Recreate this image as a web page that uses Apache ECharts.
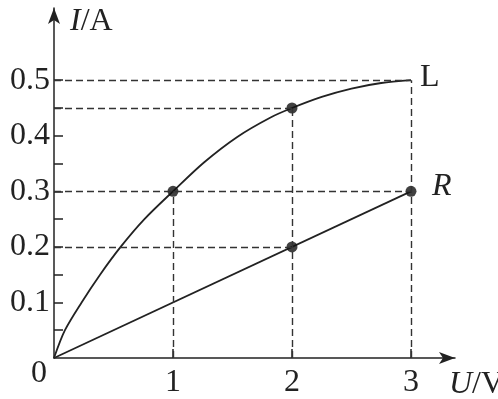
<!DOCTYPE html>
<html><head><meta charset="utf-8">
<script src="https://cdn.jsdelivr.net/npm/echarts@6/dist/echarts.min.js"></script>
<style>html,body{margin:0;padding:0;background:#fff}#c{width:498px;height:399px}</style>
</head><body><div id="c"></div>
<script>
// ---- data ----
const uTicks = [1, 2, 3];
const uLabels = [1, 2, 3];
const iTicks = [0.05, 0.1, 0.15, 0.2, 0.25, 0.3, 0.35, 0.4, 0.45, 0.5];
const iLabels = [0.1, 0.2, 0.3, 0.4, 0.5];
const lampU = [0, 0.092, 0.232, 0.387, 0.56, 0.76, 1, 1.26, 1.54, 1.82, 2, 2.25, 2.5, 2.75, 3];
const lampI = [0, 0.05, 0.1, 0.15, 0.2, 0.25, 0.3, 0.352, 0.398, 0.433, 0.45, 0.47, 0.485, 0.495, 0.5];
const resU = [0, 3];
const resI = [0, 0.3];
const lampDotU = [1, 2];
const lampDotI = [0.3, 0.45];
const resDotU = [2, 3];
const resDotI = [0.2, 0.3];
const guideHI = [0.5, 0.45, 0.3, 0.2];
const guideHU = [3, 2, 3, 2];
const guideVU = [1, 2, 3];
const guideVI = [0.3, 0.45, 0.5];
const xMax = 3.37, yMax = 0.63;

const FONT = '"Liberation Serif", "Times New Roman", serif';
const INK = '#222';
const FS = 32;
const zip = (a, b) => a.map((v, k) => [v, b[k]]);

const guides = [];
guideHI.forEach((v, k) => guides.push([{coord: [0, v]}, {coord: [guideHU[k], v]}]));
guideVU.forEach((v, k) => guides.push([{coord: [v, 0]}, {coord: [v, guideVI[k]]}]));

const chart = echarts.init(document.getElementById('c'), null, {renderer: 'canvas'});
const option = {
  animation: false,
  backgroundColor: '#fff',
  grid: {left: 54, top: 8, bottom: 41, width: 401, containLabel: false},
  xAxis: {
    type: 'value', min: 0, max: xMax,
    splitLine: {show: false},
    axisLine: {show: true, onZero: false, symbol: ['none', 'arrow'], symbolSize: [9, 16], lineStyle: {color: INK, width: 1.5}},
    axisTick: {show: true, inside: true, length: 9, customValues: uTicks, lineStyle: {color: INK, width: 1.5}},
    axisLabel: {customValues: uLabels, margin: 9, fontSize: FS, fontFamily: FONT, color: INK}
  },
  yAxis: {
    type: 'value', min: 0, max: yMax,
    splitLine: {show: false},
    axisLine: {show: true, onZero: false, symbol: ['none', 'arrow'], symbolSize: [9, 16], lineStyle: {color: INK, width: 1.5}},
    axisTick: {show: true, inside: true, length: 9, customValues: iTicks, lineStyle: {color: INK, width: 1.5}},
    axisLabel: {customValues: iLabels, margin: 4, fontSize: FS, fontFamily: FONT, color: INK, formatter: v => String(v)}
  },
  series: [
    {
      type: 'line', data: [], z: 1,
      markLine: {silent: true, symbol: ['none', 'none'], label: {show: false},
        lineStyle: {type: [7, 4], color: '#333', width: 1.4}, data: guides}
    },
    {
      name: 'L', type: 'line', data: zip(lampU, lampI), smooth: 0.3,
      showSymbol: false, z: 3, lineStyle: {color: INK, width: 1.8},
      endLabel: {show: true, formatter: 'L', fontSize: FS, fontFamily: FONT, color: INK, distance: 9, offset: [0, -3]}
    },
    {
      name: 'R', type: 'line', data: zip(resU, resI),
      showSymbol: false, z: 3, lineStyle: {color: INK, width: 1.8},
      endLabel: {show: true, formatter: 'R', fontSize: FS, fontFamily: FONT, fontStyle: 'italic', color: INK, distance: 21, offset: [0, -5]}
    },
    {
      type: 'scatter', data: zip(lampDotU, lampDotI).concat(zip(resDotU, resDotI)),
      symbol: 'circle', symbolSize: 11, z: 4, itemStyle: {color: '#111'}
    }
  ]
};
chart.setOption(option);

const pTop = chart.convertToPixel({gridIndex: 0}, [0, yMax]);
const pEnd = chart.convertToPixel({gridIndex: 0}, [xMax, 0]);
const pOrg = chart.convertToPixel({gridIndex: 0}, [0, 0]);
chart.setOption({
  graphic: [
    {type: 'text', x: pTop[0] + 16, y: pTop[1] + 14, style: {
      text: '{i|I}/A', fontSize: FS, fontFamily: FONT, fill: INK, verticalAlign: 'middle', align: 'left',
      rich: {i: {fontStyle: 'italic', fontSize: FS, fontFamily: FONT, fill: INK}}}},
    {type: 'text', x: pEnd[0] - 6, y: pEnd[1] + 27, style: {
      text: '{i|U}/V', fontSize: FS, fontFamily: FONT, fill: INK, verticalAlign: 'middle', align: 'left',
      rich: {i: {fontStyle: 'italic', fontSize: FS, fontFamily: FONT, fill: INK}}}},
    {type: 'text', x: pOrg[0] - 15, y: pOrg[1] + 16, style: {
      text: '0', fontSize: FS, fontFamily: FONT, fill: INK, verticalAlign: 'middle', align: 'center'}}
  ]
});
</script>
</body></html>
